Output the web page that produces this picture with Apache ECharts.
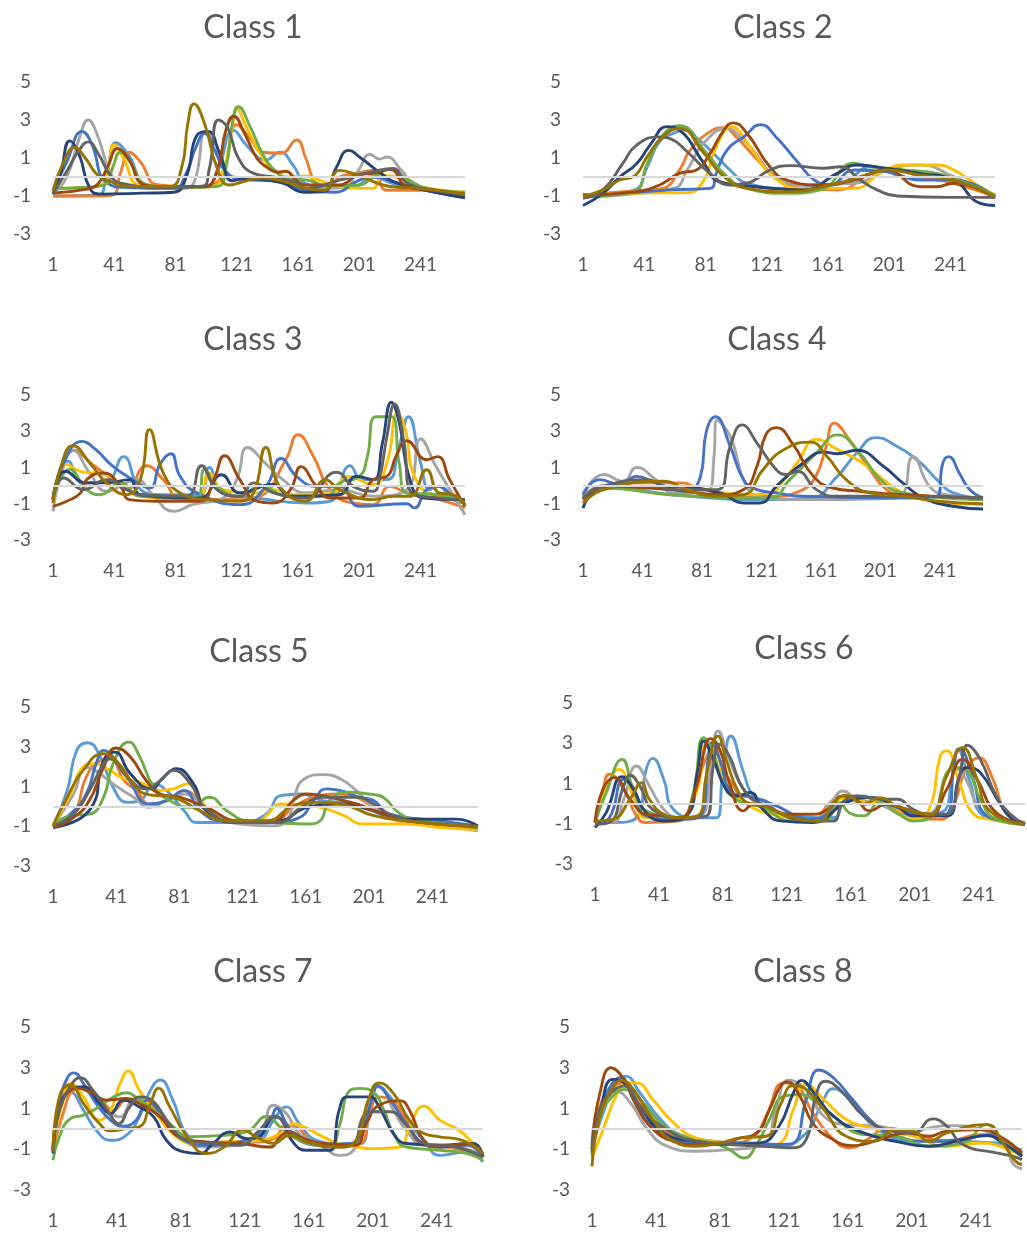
<!DOCTYPE html>
<html>
<head>
<meta charset="utf-8">
<script src="https://cdn.jsdelivr.net/npm/echarts@6.0.0/dist/echarts.min.js"></script>
<style>
html,body{margin:0;padding:0;background:#fff;}
#chart{width:1027px;height:1236px;}
</style>
</head>
<body>
<div id="chart"></div>
<script>
// ---- titles, series colours, ticks ----
const panelTitles = ['Class 1','Class 2','Class 3','Class 4','Class 5','Class 6','Class 7','Class 8'];
const seriesColors = ['#5B9BD5','#ED7D31','#A5A5A5','#FFC000','#4472C4','#70AD47','#264478','#9E480E','#636363','#997300'];
const xTickStart = 1, xTickStep = 40, xEnd = 270;
const yMin = -3, yMax = 5, yStep = 2;

// ---- Class 1 ----
const c1s1 = [[1,-1.0],[30,-0.95],[36,0.2],[42,1.8],[50,1.2],[62,-0.4],[80,-0.55],[100,-0.5],[108,0.2],[119,2.45],[128,1.6],[140,0.9],[149,1.3],[158,0.6],[166,-0.35],[180,-0.55],[199,-0.45],[210,0.0],[225,-0.4],[250,-0.75],[270,-0.85]];
const c1s2 = [[1,-1.0],[30,-1.0],[40,-0.95],[45,0.2],[51,1.3],[58,0.8],[69,-0.4],[90,-0.5],[105,-0.4],[113,0.5],[121,2.75],[130,2.0],[138,1.3],[150,1.25],[160,1.95],[166,1.0],[173,-0.4],[180,-0.6],[188,0.0],[200,0.2],[210,0.35],[219,-0.7],[240,-0.7],[270,-0.9]];
const c1s3 = [[1,-0.9],[10,0.0],[18,2.0],[24,3.0],[30,2.2],[38,0.3],[45,-0.35],[60,-0.55],[85,-0.6],[93,-0.3],[101,2.4],[108,1.6],[118,0.0],[130,-0.05],[150,-0.15],[170,-0.6],[190,-0.55],[200,0.3],[208,1.2],[214,0.95],[219,1.05],[228,0.4],[240,-0.6],[270,-0.85]];
const c1s4 = [[1,-0.6],[20,-0.55],[33,-0.4],[37,0.5],[41,1.7],[47,1.0],[57,-0.4],[80,-0.55],[105,-0.5],[112,0.3],[118,2.6],[121,3.55],[128,2.5],[138,1.0],[145,0.4],[155,0.0],[166,0.05],[172,-0.1],[188,-0.5],[199,-0.6],[210,-0.6],[216,0.1],[225,0.0],[240,-0.5],[270,-0.8]];
const c1s5 = [[1,-0.7],[10,0.8],[20,2.4],[26,1.8],[36,-0.3],[50,-0.55],[80,-0.6],[88,0.2],[94,1.5],[100,2.3],[106,1.5],[115,0.2],[127,-0.15],[145,-0.2],[166,-0.7],[185,-0.8],[200,-0.2],[210,0.0],[225,-0.3],[250,-0.8],[270,-1.05]];
const c1s6 = [[1,-0.6],[20,-0.55],[35,-0.4],[40,0.5],[45,1.3],[52,0.7],[62,-0.4],[80,-0.55],[108,-0.5],[114,0.5],[118,2.8],[122,3.7],[130,2.6],[138,1.2],[145,0.4],[155,-0.1],[166,-0.15],[180,-0.45],[199,-0.45],[212,0.1],[221,0.4],[232,-0.1],[245,-0.6],[270,-0.8]];
const c1s7 = [[1,-0.9],[6,0.2],[12,1.9],[18,1.2],[25,-0.6],[32,-0.9],[60,-0.85],[80,-0.8],[88,0.0],[95,2.2],[102,2.4],[110,1.2],[118,-0.2],[125,-0.1],[150,-0.3],[165,-0.8],[178,-0.75],[186,0.5],[194,1.4],[202,1.0],[215,0.2],[225,-0.3],[250,-0.8],[270,-1.1]];
const c1s8 = [[1,-0.85],[22,-0.65],[30,-0.4],[37,0.6],[43,1.5],[50,1.0],[60,-0.4],[70,-0.5],[100,-0.5],[108,0.3],[114,2.5],[119,3.2],[126,2.3],[134,1.0],[140,0.55],[148,0.25],[153,0.3],[160,-0.2],[166,-0.42],[188,-0.42],[200,0.1],[210,0.2],[221,0.4],[232,-0.5],[250,-0.7],[270,-0.9]];
const c1s9 = [[1,-0.85],[10,0.3],[18,1.4],[24,1.85],[30,1.3],[40,-0.1],[47,-0.35],[70,-0.55],[98,-0.5],[103,0.4],[109,3.0],[115,2.6],[122,1.0],[132,0.19],[145,0.0],[160,-0.3],[166,-0.6],[188,-0.16],[210,0.28],[223,0.45],[232,-0.3],[250,-0.7],[270,-0.9]];
const c1s10 = [[1,-0.7],[8,0.8],[15,1.55],[22,1.0],[30,0.1],[36,-0.15],[50,-0.5],[77,-0.5],[85,0.5],[89,2.8],[93,3.85],[100,2.8],[108,0.5],[116,-0.42],[125,-0.25],[136,-0.05],[150,-0.2],[166,-0.6],[178,-0.7],[188,0.35],[200,0.1],[221,-0.5],[240,-0.6],[270,-0.9]];

// ---- Class 2 ----
const c2s1 = [[1,-1.0],[34,-0.7],[43,0.54],[51,1.86],[60,2.3],[69,2.47],[76,2.0],[84,1.42],[97,0.37],[108,-0.33],[134,-0.6],[156,-0.5],[173,-0.2],[189,0.54],[210,0.0],[232,-0.15],[250,-0.4],[270,-0.95]];
const c2s2 = [[1,-0.95],[40,-0.7],[53,-0.6],[64,0.37],[71,1.42],[84,2.39],[93,2.6],[100,2.2],[115,0.89],[130,-0.25],[145,-0.6],[167,-0.68],[189,0.19],[202,0.46],[221,0.02],[243,-0.33],[270,-1.04]];
const c2s3 = [[1,-1.04],[60,-0.6],[69,0.37],[80,1.8],[95,2.55],[105,2.0],[112,1.42],[127,0.0],[145,-0.42],[178,-0.33],[199,0.37],[221,0.63],[243,0.02],[270,-1.04]];
const c2s4 = [[1,-0.95],[40,-0.85],[69,-0.82],[80,-0.16],[86,1.2],[93,2.39],[97,2.65],[110,1.6],[125,0.02],[145,-0.6],[178,-0.6],[195,0.19],[210,0.63],[232,0.63],[243,0.37],[260,-0.5],[270,-0.95]];
const c2s5 = [[1,-1.04],[58,-0.68],[84,-0.6],[88,0.19],[95,1.42],[106,2.11],[117,2.75],[127,2.11],[141,0.8],[152,-0.16],[162,-0.42],[178,0.37],[199,0.28],[221,-0.16],[243,-0.16],[270,-1.04]];
const c2s6 = [[1,-1.04],[34,-0.77],[43,0.72],[53,2.2],[64,2.7],[80,1.42],[95,0.02],[108,-0.6],[134,-0.86],[156,-0.68],[178,0.72],[189,0.54],[210,0.37],[232,0.19],[250,-0.3],[270,-0.95]];
const c2s7 = [[1,-1.5],[14,-0.86],[25,0.0],[36,0.7],[45,1.7],[56,2.65],[64,2.47],[80,0.72],[90,-0.25],[112,-0.5],[145,-0.68],[167,0.19],[180,0.63],[199,0.46],[221,0.19],[243,-0.16],[260,-1.38],[270,-1.5]];
const c2s8 = [[1,-0.95],[36,-0.77],[51,-0.42],[64,0.19],[75,0.37],[84,1.25],[93,2.47],[99,2.85],[108,2.3],[123,0.54],[134,-0.16],[156,-0.42],[178,-0.16],[199,0.37],[221,-0.51],[232,-0.51],[243,-0.33],[270,-1.12]];
const c2s9 = [[1,-1.12],[14,-0.68],[27,0.72],[36,1.68],[51,2.11],[58,2.02],[69,1.33],[84,0.19],[97,-0.42],[108,-0.33],[123,0.37],[136,0.6],[158,0.46],[169,0.54],[182,-0.16],[193,-0.68],[206,-1.0],[240,-1.07],[270,-1.07]];
const c2s10 = [[1,-1.04],[14,-0.68],[25,-0.16],[34,0.02],[43,1.07],[53,2.11],[64,2.55],[80,1.25],[93,0.02],[108,-0.6],[134,-0.77],[167,-0.33],[189,0.19],[199,0.37],[221,0.1],[243,-0.16],[270,-1.04]];

// ---- Class 3 ----
const c3s1 = [[1,-0.77],[11,1.35],[20,0.15],[36,0.24],[47,1.6],[58,-0.2],[70,-0.5],[97,-0.5],[103,1.0],[112,-0.4],[134,-0.68],[166,-0.96],[182,-0.86],[195,1.1],[203,0.33],[219,0.33],[227,2.2],[233,3.8],[241,1.25],[247,-0.22],[252,-0.04],[262,-0.77],[270,-0.96]];
const c3s2 = [[1,-0.68],[15,1.95],[27,1.16],[40,0.33],[49,-0.22],[62,1.1],[73,0.33],[84,-0.68],[123,-0.77],[136,-0.59],[153,1.43],[161,2.81],[171,1.62],[182,-0.22],[197,-0.96],[210,-1.05],[221,-0.04],[232,-0.4],[253,-0.77],[270,-1.23]];
const c3s3 = [[1,-1.42],[6,0.51],[14,1.95],[25,0.7],[36,-0.31],[50,0.2],[56,0.33],[65,-0.4],[80,-1.42],[92,-1.05],[112,-0.68],[121,0.33],[128,2.1],[140,1.2],[151,0.33],[166,-0.4],[188,-0.22],[210,-0.59],[232,-0.22],[241,2.57],[251,1.07],[260,-0.22],[270,-1.6]];
const c3s4 = [[1,-0.77],[10,1.16],[19,0.79],[36,0.6],[47,-0.04],[58,-0.59],[95,-0.77],[103,0.7],[112,-0.22],[134,-0.4],[145,-0.22],[158,-0.5],[184,-0.4],[193,0.51],[210,0.06],[219,1.25],[226,4.0],[231,3.1],[238,0.33],[253,-0.59],[270,-0.77]];
const c3s5 = [[1,-0.77],[8,1.25],[20,2.44],[29,1.98],[40,1.07],[53,0.33],[64,-0.13],[71,1.2],[78,1.76],[84,0.51],[95,-0.4],[123,-1.05],[140,-0.04],[150,1.5],[160,0.51],[173,-0.04],[188,-0.04],[201,-1.14],[232,-1.0],[237,-1.23],[245,-0.22],[253,-0.04],[262,-0.59],[270,-0.86]];
const c3s6 = [[1,-0.68],[12,0.9],[23,-0.22],[32,-0.5],[45,0.15],[58,-0.59],[95,-0.68],[100,0.9],[108,-0.04],[123,-0.59],[136,-0.04],[155,-0.59],[180,-0.59],[188,0.15],[201,0.51],[206,1.5],[212,3.8],[222,3.8],[227,1.25],[232,-0.4],[253,-0.5],[270,-0.96]];
const c3s7 = [[1,-0.77],[9,0.79],[23,0.15],[36,0.15],[51,0.33],[58,-0.5],[97,-0.68],[111,0.6],[123,-0.4],[145,0.06],[156,-0.59],[188,-0.5],[199,0.51],[210,0.33],[216,2.3],[222,4.6],[227,3.5],[234,0.33],[243,-0.68],[270,-0.77]];
const c3s8 = [[1,-1.14],[10,-0.86],[19,-0.4],[23,0.33],[34,0.7],[45,-0.04],[51,-0.77],[69,-0.86],[97,-0.86],[106,0.33],[113,1.65],[123,0.33],[134,-0.86],[145,-0.96],[156,-0.22],[163,1.05],[173,-0.04],[182,-0.68],[201,-0.68],[210,0.33],[219,0.51],[225,1.62],[232,2.48],[245,1.43],[252,1.6],[260,0.33],[270,-1.14]];
const c3s9 = [[1,-0.68],[8,0.42],[21,-0.22],[36,0.33],[49,-0.22],[58,-0.5],[88,-0.59],[98,1.1],[108,-0.22],[123,-0.59],[132,0.15],[145,-0.4],[166,-0.68],[186,0.74],[197,-0.04],[210,-0.31],[214,0.33],[219,2.7],[224,4.5],[230,2.5],[235,-0.4],[253,-0.68],[270,-0.77]];
const c3s10 = [[1,-0.96],[6,1.0],[14,2.2],[25,1.25],[36,0.15],[49,-0.5],[58,0.33],[64,3.09],[73,0.7],[84,-0.4],[101,-0.77],[123,-0.86],[132,-0.4],[140,2.1],[149,-0.04],[166,-0.86],[179,0.33],[188,-0.22],[210,-0.77],[223,-0.59],[234,-0.59],[245,0.88],[253,-0.4],[262,-0.5],[270,-1.05]];

// ---- Class 4 ----
const c4s1 = [[1,-0.59],[15,0.0],[60,-0.5],[127,-0.77],[154,-0.68],[172,0.51],[185,1.8],[198,2.65],[212,2.17],[228,1.25],[239,0.33],[250,-0.4],[270,-0.68]];
const c4s2 = [[1,-0.59],[15,0.0],[37,0.15],[68,0.15],[80,-0.22],[127,-0.59],[149,-0.22],[158,0.6],[164,2.0],[170,3.45],[180,2.55],[194,0.88],[205,-0.22],[216,-0.5],[270,-0.68]];
const c4s3 = [[1,-0.5],[15,0.61],[28,0.24],[37,1.0],[50,0.33],[62,-0.4],[86,-0.22],[89,1.5],[91,3.6],[100,2.72],[111,-0.04],[122,-0.68],[149,-0.77],[212,-0.68],[223,1.6],[234,-0.04],[245,-0.5],[270,-0.68]];
const c4s4 = [[1,-0.77],[15,-0.13],[60,-0.04],[112,-0.5],[127,-0.4],[136,0.3],[145,1.25],[158,2.55],[172,2.0],[189,1.25],[203,0.33],[216,-0.4],[238,-0.86],[270,-1.05]];
const c4s5 = [[1,-0.5],[12,0.33],[26,0.06],[37,0.51],[50,0.15],[70,-0.31],[80,0.51],[84,3.0],[90,3.8],[100,2.17],[109,0.33],[118,-0.22],[131,-0.4],[149,-0.59],[216,-0.68],[239,-0.59],[243,1.25],[247,1.6],[254,0.7],[261,-0.22],[270,-0.68]];
const c4s6 = [[1,-0.68],[15,-0.13],[60,-0.5],[127,-0.68],[140,0.33],[158,1.8],[172,2.8],[187,1.8],[201,0.33],[216,-0.4],[270,-0.77]];
const c4s7 = [[1,-1.23],[15,-0.04],[60,-0.04],[93,-0.4],[109,-0.96],[120,-0.96],[131,-0.04],[149,1.25],[163,1.85],[172,1.76],[185,1.95],[203,1.07],[216,0.15],[230,-0.68],[250,-1.14],[270,-1.29]];
const c4s8 = [[1,-0.77],[15,-0.04],[60,-0.22],[93,-0.5],[109,-0.22],[118,1.07],[124,2.81],[131,3.2],[142,2.3],[156,0.51],[169,-0.13],[187,-0.31],[216,-0.5],[270,-0.68]];
const c4s9 = [[1,-0.68],[15,-0.04],[44,0.33],[60,-0.22],[91,-0.22],[100,2.17],[108,3.35],[118,2.35],[131,0.88],[138,0.61],[145,0.79],[158,-0.22],[172,-0.59],[216,-0.59],[270,-0.68]];
const c4s10 = [[1,-0.96],[15,-0.22],[55,0.24],[71,-0.22],[89,-0.59],[109,-0.5],[122,0.88],[136,1.98],[154,2.4],[165,1.62],[178,0.33],[194,-0.4],[216,-0.59],[240,-0.86],[270,-1.0]];

// ---- Class 5 ----
const c5s1 = [[1,-0.98],[10,0.79],[16,2.82],[23,3.2],[31,2.48],[39,0.96],[48,0.2],[56,0.29],[65,1.13],[73,0.79],[84,-0.22],[92,-0.81],[119,-0.81],[136,-0.39],[145,0.54],[158,0.62],[172,0.29],[193,0.12],[214,-0.56],[246,-0.89],[270,-1.06]];
const c5s2 = [[1,-0.98],[14,-0.39],[22,1.47],[31,2.31],[37,2.4],[46,1.3],[54,0.79],[62,0.12],[73,0.29],[84,0.79],[98,-0.22],[111,-0.73],[140,-0.81],[153,-0.05],[166,0.46],[183,0.62],[193,0.46],[204,-0.05],[225,-0.81],[270,-0.98]];
const c5s3 = [[1,-0.98],[14,0.62],[22,1.97],[28,1.8],[39,1.13],[52,0.46],[62,-0.05],[73,0.29],[84,0.62],[98,-0.05],[119,-0.89],[140,-0.98],[150,-0.6],[153,0.29],[160,1.38],[172,1.6],[183,1.38],[193,0.79],[204,-0.05],[225,-0.81],[246,-0.98],[270,-1.23]];
const c5s4 = [[1,-0.98],[12,0.62],[20,1.97],[27,2.14],[37,1.81],[46,1.38],[56,1.22],[67,0.79],[77,0.88],[86,1.13],[98,-0.05],[111,-0.73],[130,-0.81],[136,-0.47],[145,0.12],[165,0.03],[183,-0.39],[198,-0.89],[225,-0.89],[246,-1.06],[270,-1.15]];
const c5s5 = [[1,-0.98],[12,-0.39],[22,0.62],[29,2.31],[33,2.82],[39,2.48],[48,1.47],[62,0.12],[73,0.29],[84,0.79],[94,-0.22],[108,-0.73],[140,-0.81],[157,-0.56],[166,0.29],[174,0.88],[183,0.79],[195,0.46],[204,0.29],[214,-0.39],[246,-0.73],[270,-0.98]];
const c5s6 = [[1,-0.98],[12,-0.47],[24,-0.39],[33,0.46],[39,2.14],[49,3.24],[56,2.48],[65,0.96],[77,0.2],[88,-0.05],[100,0.46],[111,-0.22],[124,-0.73],[140,-0.81],[162,-0.89],[170,-0.73],[176,0.29],[187,0.71],[204,0.59],[210,0.46],[221,-0.39],[235,-0.73],[270,-1.06]];
const c5s7 = [[1,-1.06],[24,-0.2],[33,2.31],[40,2.73],[50,1.64],[63,0.88],[71,1.47],[79,1.89],[90,1.13],[98,-0.22],[119,-0.81],[144,-0.73],[162,-0.05],[183,0.12],[204,-0.22],[225,-0.64],[256,-0.64],[270,-0.98]];
const c5s8 = [[1,-1.06],[14,-0.56],[24,0.29],[33,1.97],[41,2.94],[50,2.48],[60,1.3],[69,0.62],[81,0.46],[98,-0.05],[119,-0.73],[140,-0.73],[153,0.29],[162,0.62],[174,0.49],[193,0.12],[204,-0.22],[225,-0.73],[270,-0.98]];
const c5s9 = [[1,-0.98],[14,-0.39],[24,0.79],[33,2.14],[37,2.4],[48,1.47],[60,0.88],[69,1.3],[77,1.81],[88,1.13],[98,-0.14],[119,-0.81],[144,-0.81],[158,-0.05],[172,0.46],[193,0.46],[204,0.12],[214,-0.39],[235,-0.81],[270,-0.98]];
const c5s10 = [[1,-0.98],[10,0.46],[20,1.81],[33,2.65],[41,2.31],[52,1.13],[60,0.62],[77,0.46],[94,-0.22],[111,-0.73],[136,-0.73],[153,0.03],[166,0.2],[183,0.12],[204,-0.47],[225,-0.73],[270,-1.06]];

// ---- Class 6 ----
const c6s1 = [[1,-0.94],[12,-0.94],[27,-0.7],[33,1.7],[37,2.25],[44,1.21],[50,-0.28],[65,-0.7],[77,-0.7],[81,1.54],[86,3.36],[94,1.54],[100,0.38],[108,0.13],[117,-0.45],[150,-0.7],[158,0.22],[169,0.38],[179,-0.03],[200,-0.53],[217,-0.45],[225,1.54],[228,2.7],[235,1.21],[244,-0.61],[260,-0.9],[270,-1.03]];
const c6s2 = [[1,-0.86],[6,0.71],[10,1.46],[19,0.71],[27,-0.61],[33,-0.94],[54,-0.86],[60,-0.28],[67,1.54],[73,2.7],[75,2.85],[81,1.7],[87,0.96],[96,0.05],[106,-0.03],[117,-0.45],[137,-0.86],[148,0.05],[158,0.38],[169,-0.03],[179,0.05],[200,-0.61],[217,-0.78],[225,-0.12],[233,1.7],[241,2.28],[250,1.21],[258,-0.45],[270,-0.94]];
const c6s3 = [[1,-0.94],[12,-0.94],[19,0.22],[27,1.87],[35,0.88],[44,-0.28],[54,-0.7],[67,-0.61],[73,1.54],[78,3.61],[85,2.2],[94,0.71],[106,-0.12],[137,-0.86],[150,0.22],[156,0.63],[165,0.22],[179,-0.03],[200,-0.7],[212,-0.45],[221,1.46],[227,1.7],[233,1.21],[242,-0.28],[255,-0.8],[270,-1.03]];
const c6s4 = [[1,-0.94],[8,0.71],[16,1.7],[25,0.38],[33,-0.7],[54,-0.7],[65,0.71],[71,3.0],[77,2.53],[83,1.04],[96,-0.03],[117,-0.61],[142,-0.86],[154,0.22],[164,0.3],[173,-0.03],[179,0.22],[200,-0.78],[210,-0.28],[217,2.37],[221,2.62],[229,1.04],[237,-0.45],[248,-0.78],[270,-1.03]];
const c6s5 = [[1,-1.03],[10,-0.7],[19,1.21],[25,0.79],[33,-0.61],[54,-0.78],[67,-0.61],[72,2.37],[74,3.03],[79,2.2],[87,0.55],[100,0.3],[112,-0.03],[137,-0.78],[158,0.13],[173,0.3],[190,-0.2],[210,-0.61],[221,-0.53],[226,2.2],[229,2.73],[237,1.37],[246,-0.61],[262,-0.9],[270,-1.03]];
const c6s6 = [[1,-0.94],[8,0.55],[18,2.2],[25,0.71],[33,-0.36],[54,-0.7],[62,0.38],[69,3.28],[75,2.53],[81,1.04],[89,0.22],[106,-0.2],[124,-0.86],[144,-0.86],[154,0.05],[160,-0.45],[169,-0.61],[179,0.05],[190,-0.45],[200,-0.86],[212,-0.61],[223,1.7],[229,1.79],[235,1.54],[242,0.22],[252,-0.78],[270,-1.03]];
const c6s7 = [[1,-1.19],[8,-0.45],[18,1.34],[25,0.71],[33,-0.45],[44,-0.86],[58,-0.61],[65,1.54],[69,3.11],[75,2.2],[83,0.71],[90,0.38],[98,0.55],[106,-0.28],[117,-0.86],[137,-0.94],[158,0.05],[173,0.3],[190,-0.12],[200,-0.61],[221,-0.61],[229,1.37],[234,1.79],[242,1.54],[254,0.05],[262,-0.78],[270,-1.03]];
const c6s8 = [[1,-0.94],[6,0.71],[13,1.29],[23,0.22],[33,-0.53],[44,-0.61],[54,-0.7],[64,0.71],[70,2.86],[73,3.23],[79,2.7],[85,1.04],[94,-0.36],[100,-0.03],[108,-0.12],[121,-0.53],[137,-0.53],[148,-0.2],[156,0.38],[164,0.22],[173,-0.36],[183,-0.03],[196,-0.28],[210,-0.61],[221,0.71],[231,2.2],[240,1.21],[252,-0.45],[270,-1.03]];
const c6s9 = [[1,-1.03],[10,-0.94],[19,0.88],[23,1.41],[29,0.88],[37,-0.28],[54,-0.7],[71,-0.61],[75,1.87],[79,2.95],[85,2.37],[94,0.71],[106,-0.03],[137,-0.86],[150,-0.86],[156,0.05],[165,0.38],[179,0.22],[190,0.22],[200,-0.28],[210,-0.53],[221,-0.53],[229,1.37],[234,2.9],[242,2.2],[252,0.38],[262,-0.61],[270,-1.03]];
const c6s10 = [[1,-0.86],[12,-0.78],[23,0.22],[30,1.04],[35,0.22],[44,-0.53],[54,-0.7],[65,-0.61],[71,1.54],[78,3.36],[83,2.2],[90,0.71],[98,-0.03],[106,-0.12],[125,-0.7],[142,-0.86],[150,0.05],[158,0.41],[169,-0.03],[179,0.3],[190,-0.12],[210,-0.53],[221,1.37],[231,2.78],[240,1.21],[248,-0.36],[270,-1.03]];

// ---- Class 7 ----
const c7s1 = [[1,-1.05],[5,0.92],[12,1.8],[20,0.92],[28,-0.07],[37,-0.56],[47,-0.31],[55,0.59],[62,1.9],[68,2.4],[76,1.41],[85,-0.31],[97,-0.72],[118,-0.72],[130,-0.56],[139,0.43],[147,1.08],[155,0.26],[166,-0.56],[180,-0.72],[193,-0.72],[199,0.92],[203,2.15],[212,1.57],[222,0.43],[233,-0.56],[243,-1.3],[260,-1.13],[270,-1.62]];
const c7s2 = [[1,-1.05],[8,0.92],[14,1.9],[20,1.98],[30,1.49],[39,0.92],[47,1.41],[55,1.41],[66,0.92],[76,-0.07],[89,-0.72],[110,-0.64],[128,-0.64],[139,-0.48],[147,0.18],[153,0.1],[164,-0.64],[180,-0.8],[193,-0.72],[199,0.75],[205,1.57],[213,1.41],[222,0.43],[233,-0.72],[247,-0.89],[270,-1.21]];
const c7s3 = [[1,-1.05],[5,0.92],[14,2.07],[24,1.74],[35,0.92],[43,0.59],[51,1.41],[58,1.49],[68,0.92],[80,-0.39],[97,-0.89],[118,-0.8],[130,-0.39],[139,1.16],[147,0.75],[155,-0.23],[170,-0.89],[180,-1.3],[189,-1.05],[195,0.26],[201,1.9],[205,2.07],[214,0.92],[222,-0.07],[233,-0.8],[253,-0.89],[270,-1.3]];
const c7s4 = [[1,-0.72],[8,1.57],[12,2.23],[20,1.57],[30,0.43],[37,0.92],[43,2.23],[48,2.84],[55,1.9],[64,0.92],[76,-0.23],[89,-0.72],[108,-0.64],[130,-0.56],[145,-0.15],[151,0.26],[158,0.1],[170,-0.39],[180,-0.72],[191,-0.89],[201,-0.97],[218,-0.89],[224,0.1],[233,1.11],[243,0.43],[255,-0.07],[264,-0.72],[270,-1.21]];
const c7s5 = [[1,-1.05],[5,1.25],[10,2.5],[14,2.75],[20,2.23],[28,1.25],[37,0.43],[45,0.13],[53,0.43],[60,1.41],[65,1.08],[72,0.26],[83,-0.56],[97,-0.8],[122,-0.56],[130,-0.23],[137,0.43],[141,1.0],[147,0.26],[155,-0.56],[170,-0.8],[188,-0.72],[195,0.1],[201,1.57],[204,2.1],[212,1.41],[222,0.26],[233,-0.72],[243,-0.89],[260,-0.8],[270,-1.38]];
const c7s6 = [[1,-1.54],[5,-0.39],[12,0.51],[20,0.67],[28,1.0],[39,1.57],[47,1.77],[55,1.41],[64,0.92],[74,0.26],[87,-0.39],[108,-0.31],[122,-0.15],[135,0.62],[143,0.1],[155,-0.56],[170,-0.8],[176,-0.72],[180,0.1],[187,1.9],[193,1.98],[201,1.82],[208,0.92],[214,-0.23],[222,-0.89],[243,-1.05],[260,-1.21],[270,-1.54]];
const c7s7 = [[1,-1.21],[5,1.08],[12,1.9],[20,2.07],[30,1.25],[37,0.75],[45,1.41],[55,1.08],[64,0.59],[72,-0.56],[83,-1.13],[93,-1.21],[101,-0.72],[112,-0.15],[122,-0.48],[130,-0.39],[139,0.59],[143,0.51],[151,-0.64],[160,-1.05],[174,-1.05],[180,0.92],[185,1.57],[199,1.57],[205,1.08],[214,-0.23],[222,-0.72],[243,-0.8],[264,-0.72],[270,-1.38]];
const c7s8 = [[1,-1.05],[5,0.92],[16,2.0],[24,1.82],[35,1.41],[47,1.49],[55,1.25],[68,0.59],[80,-0.39],[97,-0.64],[118,-0.72],[137,-0.89],[143,-0.39],[149,-0.15],[158,-0.48],[170,-0.72],[190,-0.8],[197,0.26],[205,1.16],[218,1.38],[224,0.92],[233,-0.56],[243,-0.89],[260,-0.72],[270,-1.21]];
const c7s9 = [[1,-1.13],[5,0.92],[12,2.1],[18,2.51],[26,1.9],[35,0.92],[42,0.26],[49,1.08],[55,1.57],[64,1.33],[72,0.43],[85,-0.56],[101,-0.72],[118,-0.8],[130,-0.07],[140,0.62],[149,-0.07],[160,-0.64],[180,-0.89],[189,-0.72],[195,0.59],[201,0.84],[212,0.84],[222,0.18],[233,-0.72],[253,-0.89],[270,-1.38]];
const c7s10 = [[1,-1.05],[5,1.57],[12,2.15],[20,1.25],[30,0.26],[37,-0.1],[47,0.02],[55,0.1],[62,1.25],[67,2.0],[74,1.08],[85,-0.39],[97,-1.21],[108,-0.89],[120,-0.05],[128,-0.39],[139,-0.72],[149,-0.31],[160,-0.64],[180,-0.89],[189,-0.72],[199,1.57],[205,2.26],[214,1.74],[224,0.43],[233,-0.23],[243,-0.39],[257,-0.56],[270,-1.21]];

// ---- Class 8 ----
const c8s1 = [[1,-0.85],[8,0.79],[14,1.93],[22,2.59],[31,1.77],[44,0.46],[56,-0.28],[77,-0.61],[98,-0.77],[118,-0.85],[135,-0.2],[144,1.11],[152,1.97],[160,1.61],[171,0.62],[181,-0.11],[202,-0.61],[223,-0.61],[254,-0.69],[264,-0.93],[270,-1.02]];
const c8s2 = [[1,-1.02],[6,1.11],[14,2.02],[21,2.26],[31,1.2],[46,-0.03],[66,-0.61],[87,-0.69],[102,-0.36],[110,0.62],[121,2.26],[129,2.1],[139,0.79],[152,-0.52],[162,-0.93],[175,-0.44],[185,0.05],[202,-0.2],[223,-0.61],[244,-0.28],[254,-0.36],[270,-1.26]];
const c8s3 = [[1,-0.93],[6,0.95],[16,1.85],[25,1.28],[35,0.05],[48,-0.85],[66,-1.1],[87,-1.02],[108,-0.77],[116,0.95],[124,2.39],[135,1.93],[146,0.62],[160,0.21],[181,0.13],[198,-0.28],[212,0.05],[227,0.16],[244,-0.03],[260,-0.85],[264,-1.67],[270,-1.97]];
const c8s4 = [[1,-1.43],[8,-0.03],[16,1.61],[23,2.26],[29,2.26],[39,1.44],[52,0.3],[66,-0.44],[87,-0.69],[110,-0.85],[119,-0.69],[127,0.95],[135,2.18],[146,1.44],[160,0.46],[175,0.05],[181,-0.03],[202,-0.36],[223,-0.85],[244,-0.69],[256,-0.85],[270,-1.34]];
const c8s5 = [[1,-1.02],[6,0.95],[14,2.26],[19,2.51],[27,1.44],[39,0.13],[56,-0.61],[77,-0.69],[98,-0.69],[118,-0.77],[127,-0.69],[135,1.44],[143,2.89],[152,2.51],[164,1.44],[177,0.3],[191,-0.36],[212,-0.61],[233,-0.52],[250,-0.28],[262,-0.85],[270,-1.18]];
const c8s6 = [[1,-1.34],[6,0.62],[14,1.61],[21,1.93],[31,1.44],[44,0.3],[60,-0.44],[77,-0.69],[87,-1.02],[96,-1.43],[104,-0.77],[112,0.46],[121,1.61],[131,1.69],[139,1.44],[152,0.62],[171,-0.28],[191,-0.36],[212,-0.85],[233,-0.69],[248,0.21],[256,-0.36],[270,-1.34]];
const c8s7 = [[1,-1.02],[6,0.79],[14,2.43],[21,2.26],[31,1.11],[46,-0.2],[66,-0.61],[87,-0.77],[106,-0.69],[118,0.13],[127,1.77],[132,2.38],[139,1.85],[152,0.62],[171,-0.2],[191,-0.61],[212,-0.85],[233,-0.52],[248,-0.33],[258,-0.69],[270,-1.34]];
const c8s8 = [[1,-0.77],[6,1.77],[13,3.0],[21,2.43],[29,1.11],[39,0.0],[52,-0.61],[66,-0.77],[87,-0.77],[91,-0.52],[104,-0.2],[112,0.95],[119,2.1],[123,2.3],[131,1.61],[139,0.3],[150,-0.44],[164,-0.82],[181,-0.52],[198,-0.2],[212,-0.36],[223,-0.11],[244,-0.03],[256,-0.36],[270,-1.18]];
const c8s9 = [[1,-1.18],[6,0.95],[14,1.85],[21,2.1],[31,1.11],[46,0.05],[66,-0.61],[87,-0.77],[108,-0.85],[125,-0.93],[135,-0.52],[141,1.61],[147,2.34],[156,1.93],[171,0.62],[185,-0.03],[202,-0.2],[214,0.49],[223,0.13],[233,-0.77],[254,-1.18],[264,-1.34],[270,-1.51]];
const c8s10 = [[1,-1.84],[6,0.62],[14,2.02],[19,2.38],[27,1.93],[39,0.46],[52,-0.61],[66,-0.85],[81,-0.69],[94,-0.44],[110,-0.36],[119,1.2],[127,2.13],[135,1.93],[146,0.95],[160,-0.36],[177,-0.61],[191,-0.03],[202,-0.11],[212,-0.61],[223,-0.2],[248,0.21],[258,-0.69],[266,-1.59],[270,-1.75]];

const panelSeries = [
  [c1s1,c1s2,c1s3,c1s4,c1s5,c1s6,c1s7,c1s8,c1s9,c1s10],
  [c2s1,c2s2,c2s3,c2s4,c2s5,c2s6,c2s7,c2s8,c2s9,c2s10],
  [c3s1,c3s2,c3s3,c3s4,c3s5,c3s6,c3s7,c3s8,c3s9,c3s10],
  [c4s1,c4s2,c4s3,c4s4,c4s5,c4s6,c4s7,c4s8,c4s9,c4s10],
  [c5s1,c5s2,c5s3,c5s4,c5s5,c5s6,c5s7,c5s8,c5s9,c5s10],
  [c6s1,c6s2,c6s3,c6s4,c6s5,c6s6,c6s7,c6s8,c6s9,c6s10],
  [c7s1,c7s2,c7s3,c7s4,c7s5,c7s6,c7s7,c7s8,c7s9,c7s10],
  [c8s1,c8s2,c8s3,c8s4,c8s5,c8s6,c8s7,c8s8,c8s9,c8s10]
];

// ---- layout (pixels) ----
const layout = [
  {left:53,  top:82,   width:412, height:152, tx:253, ty:28},
  {left:583, top:82,   width:412, height:152, tx:783, ty:28},
  {left:53,  top:395,  width:412, height:145, tx:253, ty:340},
  {left:583, top:395,  width:400, height:145, tx:777, ty:340},
  {left:53,  top:707,  width:425, height:159, tx:259, ty:652},
  {left:595, top:703,  width:430, height:161, tx:804, ty:649},
  {left:53,  top:1027, width:430, height:163, tx:263, ty:972},
  {left:592, top:1027, width:430, height:163, tx:803, ty:972}
];

const FONT = 'Lato, "Open Sans", sans-serif';
const TXT = '#595959';

const option = {
  backgroundColor: '#ffffff',
  animation: false,
  title: [], grid: [], xAxis: [], yAxis: [], series: []
};

layout.forEach((L, i) => {
  option.title.push({
    text: panelTitles[i], left: L.tx, top: L.ty - 17, textAlign: 'center', padding: 0,
    textStyle: {fontFamily: FONT, fontSize: 32, fontWeight: 'normal', color: TXT, lineHeight: 34}
  });
  option.grid.push({left: L.left, top: L.top, width: L.width, height: L.height, containLabel: false});
  option.xAxis.push({
    gridIndex: i, type: 'value', min: xTickStart, max: xEnd, interval: xTickStep,
    axisLine: {show: false}, axisTick: {show: false}, splitLine: {show: false},
    axisLabel: {showMaxLabel: false, fontFamily: FONT, fontSize: 19, color: TXT, margin: 21}
  });
  option.yAxis.push({
    gridIndex: i, type: 'value', min: yMin, max: yMax, interval: yStep,
    axisLine: {show: false}, axisTick: {show: false}, splitLine: {show: false},
    axisLabel: {fontFamily: FONT, fontSize: 19, color: TXT, margin: 22}
  });
  panelSeries[i].forEach((data, k) => {
    const s = {
      type: 'line', name: 'Series ' + (k + 1), xAxisIndex: i, yAxisIndex: i,
      data: data, smooth: 0.5, symbol: 'none', showSymbol: false,
      lineStyle: {width: 2.9, color: seriesColors[k]}, itemStyle: {color: seriesColors[k]},
      emphasis: {disabled: true}
    };
    if (k === 0) {
      s.markLine = {
        silent: true, symbol: 'none', label: {show: false}, animation: false,
        lineStyle: {color: '#D9D9D9', width: 2, type: 'solid'},
        data: [{yAxis: 0}]
      };
    }
    option.series.push(s);
  });
});

const chart = echarts.init(document.getElementById('chart'), null, {renderer: 'canvas'});
chart.setOption(option);
</script>
</body>
</html>
